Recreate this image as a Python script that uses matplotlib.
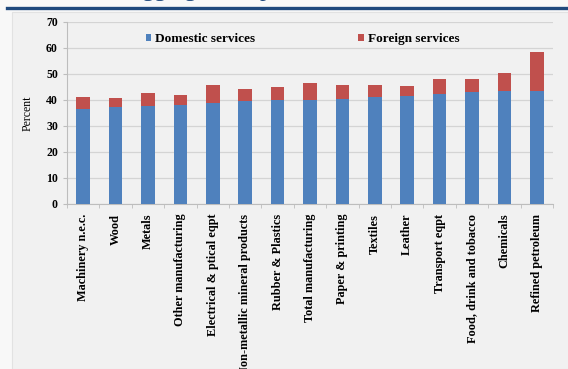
import numpy as np
import matplotlib
matplotlib.use("Agg")
import matplotlib.pyplot as plt
from matplotlib.patches import Rectangle

sectors = ["Machinery n.e.c.", "Wood", "Metals", "Other manufacturing",
           "Electrical & ptical eqpt", "Non-metallic mineral products",
           "Rubber & Plastics", "Total manufacturing", "Paper & printing",
           "Textiles", "Leather", "Transport eqpt", "Food, drink and tobacco",
           "Chemicals", "Refined petroleum"]
domestic = [36.5, 37.2, 37.7, 38.1, 38.7, 39.6, 40.0, 40.0, 40.4, 41.3,
            41.5, 42.2, 43.2, 43.6, 43.6]
totals = [41.0, 40.9, 42.8, 41.9, 45.8, 44.1, 44.9, 46.5, 45.7, 45.8,
          45.4, 48.0, 48.0, 50.3, 58.3]
foreign = [t - d for t, d in zip(totals, domestic)]

plt.rcParams['font.family'] = ['Liberation Serif', 'DejaVu Serif']
plt.rcParams['font.weight'] = 'bold'

fig = plt.figure(figsize=(5.68, 3.69), dpi=100)
fig.patch.set_facecolor("#f8f8f8")

# chart frame behind the axes
fig.patches.append(Rectangle((12/568, 0), 1, 1 - 12/369, transform=fig.transFigure,
                             facecolor="#f1f1f1", edgecolor="#e2e2e2", lw=0.8, zorder=-5))
# slide title rule and clipped title (only descenders show)
fig.add_artist(plt.Line2D([7/568, 1], [1 - 7.5/369, 1 - 7.5/369], transform=fig.transFigure,
                          color="#1f497d", lw=2.4))
fig.text(0.175, 1.0 + 4/369, "Disaggregated inputs of services", color="#1f497d",
         fontsize=17, fontweight='normal', va='baseline', ha='left')

ax = fig.add_axes([67/568, 1 - 204/369, 486/568, 182/369])
ax.set_facecolor("#f1f1f1")
x = np.arange(len(sectors))
ax.bar(x, domestic, width=0.42, color="#4f81bd", label="Domestic services", zorder=3)
ax.bar(x, foreign, width=0.42, bottom=domestic, color="#c0504d", label="Foreign services", zorder=3)

ax.set_xlim(-0.5, len(sectors) - 0.5)
ax.set_ylim(0, 70)
ax.set_yticks(np.arange(0, 71, 10))
ax.yaxis.grid(True, color="#d4d4d4", lw=0.9, zorder=0)
ax.set_xticks(x)
ax.set_xticklabels(sectors, rotation=90, fontsize=8.8)
ax.tick_params(axis='x', length=0, pad=7)
ax.set_xticks(np.arange(-0.5, len(sectors), 1), minor=True)
ax.tick_params(axis='x', which='minor', length=3, color="#bdbdbd")
ax.tick_params(axis='y', labelsize=8.5, length=3, color="#bdbdbd")
for s in ["top", "right"]:
    ax.spines[s].set_visible(False)
for s in ["left", "bottom"]:
    ax.spines[s].set_color("#bdbdbd")
ax.set_ylabel("Percent", fontsize=8.5, labelpad=9)
ax.legend(loc='center', bbox_to_anchor=(0.485, 0.905), ncol=2, frameon=False,
          fontsize=9.5, handlelength=0.4, handleheight=0.4, handletextpad=0.3,
          columnspacing=7.8)

fig.savefig("out.png", dpi=100, facecolor=fig.get_facecolor())
